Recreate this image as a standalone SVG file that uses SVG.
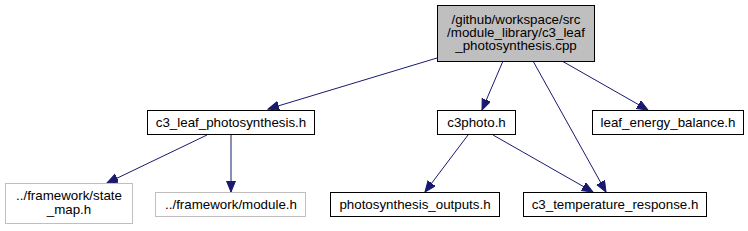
<svg xmlns="http://www.w3.org/2000/svg" width="748" height="231" viewBox="0 0 748 231">
<style>
text{font-family:"Liberation Sans",Arial,sans-serif;font-size:13.33px;fill:#000;text-anchor:middle}
.n{fill:#fff;stroke:#000;stroke-width:1}
.g{fill:#fff;stroke:#bfbfbf;stroke-width:1}
.r{fill:#bfbfbf;stroke:#000;stroke-width:1}
.e{stroke:#191970;stroke-width:1;fill:none;marker-end:url(#ah)}
</style>
<defs>
<marker id="ah" markerUnits="userSpaceOnUse" markerWidth="12" markerHeight="10" refX="11" refY="4.5" orient="auto">
<path d="M0,0 L11,4.5 L0,9 z" fill="#191970" stroke="#191970"/>
</marker>
</defs>
<rect width="748" height="231" fill="#fff"/>
<g id="edges">
<line class="e" x1="437" y1="58" x2="268" y2="109"/>
<line class="e" x1="503" y1="61" x2="482" y2="110"/>
<line class="e" x1="533" y1="61" x2="606" y2="192"/>
<line class="e" x1="562" y1="61" x2="648" y2="110"/>
<line class="e" x1="207" y1="135" x2="107" y2="183"/>
<line class="e" x1="231" y1="135" x2="231" y2="192"/>
<line class="e" x1="468" y1="135" x2="425" y2="192"/>
<line class="e" x1="493" y1="135" x2="593" y2="192"/>
</g>
<g id="root">
<rect class="r" x="437.5" y="5.5" width="157" height="56"/>
<text x="516" y="24">/github/workspace/src</text>
<text x="516" y="37">/module_library/c3_leaf</text>
<text x="516" y="50">_photosynthesis.cpp</text>
</g>
<g id="c3_leaf_photosynthesis_h">
<rect class="n" x="147.5" y="110.5" width="167" height="24"/>
<text x="231" y="127">c3_leaf_photosynthesis.h</text>
</g>
<g id="c3photo_h">
<rect class="n" x="437.5" y="110.5" width="78" height="24"/>
<text x="476.5" y="127">c3photo.h</text>
</g>
<g id="leaf_energy_balance_h">
<rect class="n" x="592.5" y="110.5" width="151" height="24"/>
<text x="668" y="127">leaf_energy_balance.h</text>
</g>
<g id="state_map_h">
<rect class="g" x="5.5" y="183.5" width="127" height="40"/>
<text x="69" y="200">../framework/state</text>
<text x="69" y="213.5">_map.h</text>
</g>
<g id="module_h">
<rect class="g" x="155.5" y="192.5" width="150" height="24"/>
<text x="231" y="209">../framework/module.h</text>
</g>
<g id="photosynthesis_outputs_h">
<rect class="n" x="330.5" y="192.5" width="169" height="24"/>
<text x="415" y="209">photosynthesis_outputs.h</text>
</g>
<g id="c3_temperature_response_h">
<rect class="n" x="523.5" y="192.5" width="183" height="24"/>
<text x="615" y="209">c3_temperature_response.h</text>
</g>
</svg>
